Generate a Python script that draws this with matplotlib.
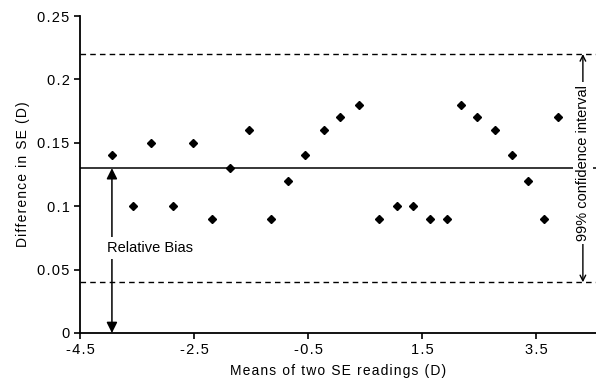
import matplotlib
matplotlib.use("Agg")
import matplotlib.pyplot as plt

plt.rcParams['font.family'] = ['Liberation Sans', 'DejaVu Sans']

# data
means = [-3.94, -3.57, -3.25, -2.87, -2.52, -2.18, -1.87, -1.54, -1.15, -0.85,
         -0.55, -0.22, 0.06, 0.39, 0.75, 1.06, 1.34, 1.64, 1.94, 2.18,
         2.46, 2.78, 3.08, 3.36, 3.64, 3.89]
diffs = [0.14, 0.10, 0.15, 0.10, 0.15, 0.09, 0.13, 0.16, 0.09, 0.12,
         0.14, 0.16, 0.17, 0.18, 0.09, 0.10, 0.10, 0.09, 0.09, 0.18,
         0.17, 0.16, 0.14, 0.12, 0.09, 0.17]
bias = 0.13
upper_ci = 0.22
lower_ci = 0.04
xticks = [-4.5, -2.5, -0.5, 1.5, 3.5]
yticks = [0, 0.05, 0.1, 0.15, 0.2, 0.25]
ytick_labels = ["0", "0.05", "0.1", "0.15", "0.2", "0.25"]


def spaced(s):
    # the original text is slightly letter-spaced
    return '\u200a'.join(s)


fig = plt.figure(figsize=(5.96, 3.82), dpi=100)
ax = fig.add_axes([80/596, 49/382, 516/596, 317/382])

ax.plot(means, diffs, 'D', color='black', markersize=4.5, zorder=3)
ax.axhline(bias, color='black', lw=1.1, zorder=1)
ax.axhline(upper_ci, color='black', lw=1, ls=(0, (4, 3)), zorder=1)
ax.axhline(lower_ci, color='black', lw=1, ls=(0, (4, 3)), zorder=1)

# relative bias arrow
xb = -3.94
ax.annotate('', xy=(xb, bias), xytext=(xb, 0),
            arrowprops=dict(arrowstyle='<|-|>', color='black', lw=1.1,
                            mutation_scale=16, shrinkA=0, shrinkB=0))
ax.text(-4.02, 0.067, 'Relative Bias', fontsize=10.5, ha='left', va='center',
        bbox=dict(facecolor='white', edgecolor='none', pad=3), zorder=4)

# 99% confidence interval arrow
xc = 4.32
ax.annotate('', xy=(xc, upper_ci), xytext=(xc, lower_ci),
            arrowprops=dict(arrowstyle='<->', color='black', lw=1,
                            mutation_scale=10, shrinkA=0, shrinkB=0))
ax.text(xc, 0.134, '99% confidence interval', fontsize=10.5, rotation=90,
        ha='center', va='center',
        bbox=dict(facecolor='white', edgecolor='none', pad=2), zorder=4)

ax.set_xlim(-4.5, 4.55)
ax.set_ylim(0, 0.25)
ax.set_xticks(xticks)
ax.set_xticklabels([spaced(str(t)) for t in xticks])
ax.set_yticks(yticks)
ax.set_yticklabels([spaced(t) for t in ytick_labels])
ax.tick_params(direction='out', length=4, width=1.2, labelsize=10.5)
ax.spines['top'].set_visible(False)
ax.spines['right'].set_visible(False)
ax.spines['left'].set_linewidth(1.3)
ax.spines['bottom'].set_linewidth(1.3)

ax.set_xlabel(spaced('Means of two SE readings (D)'), fontsize=10, labelpad=5)
ax.set_ylabel(spaced('Difference in SE (D)'), fontsize=10, labelpad=5)

fig.savefig('out.png', dpi=100)
